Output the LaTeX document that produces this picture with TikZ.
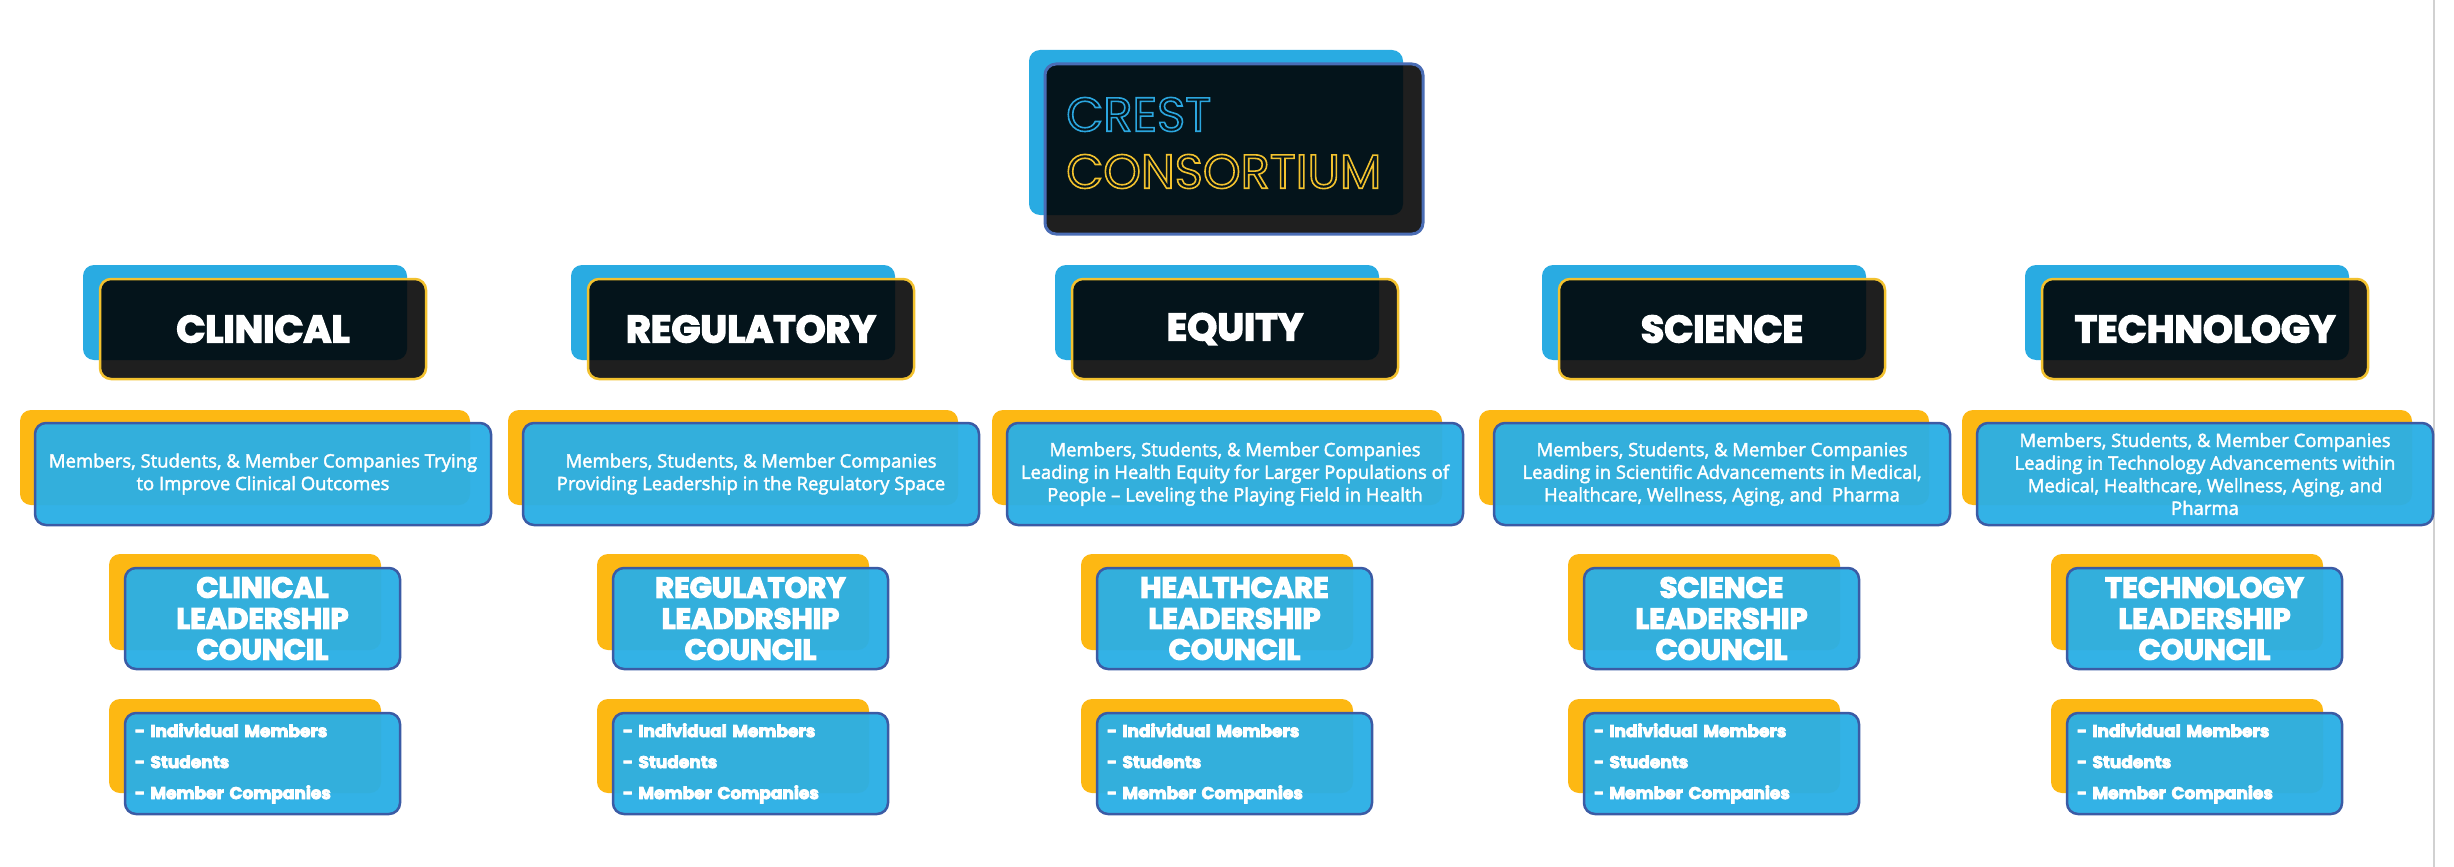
\documentclass[tikz,border=0pt]{standalone}
\usepackage{fontspec}
\setmainfont{Open Sans}
\newfontfamily\heavy{Poppins}
\newfontfamily\outlinefont{Poppins}
\pgfdeclarelayer{bg}
\pgfsetlayers{bg,main}
\definecolor{skyb}{HTML}{29ABE2}
\definecolor{skyf}{HTML}{2BAFE5}
\definecolor{gold}{HTML}{FDB813}
\definecolor{linkb}{HTML}{3F5FA8}
\definecolor{edgeb}{HTML}{3B5BA5}
\definecolor{edgey}{HTML}{F2C12E}
\definecolor{titleb}{HTML}{2BA6DF}
\definecolor{titley}{HTML}{F2C22E}
\definecolor{topedge}{HTML}{4A6DB5}
% outlined text (stroke only) and emboldened text (fill + stroke)
\newcommand\outl[1]{\special{pdf:literal direct 1 Tr 1.6 w}#1\special{pdf:literal direct 0 Tr 1 w}}
\newcommand\emb[2]{\special{pdf:literal direct 2 Tr #1 w}#2\special{pdf:literal direct 0 Tr 1 w}}
\tikzset{
  backblue/.style={rectangle, rounded corners=11pt, fill=skyb, inner sep=0pt},
  backgold/.style={rectangle, rounded corners=11pt, fill=gold, inner sep=0pt},
  darkfront/.style={rectangle, rounded corners=11pt, fill=black, fill opacity=0.88,
    text opacity=1, draw=edgey, line width=2.5pt, text=white, inner sep=0pt},
  bluefront/.style={rectangle, rounded corners=11pt, fill=skyf, fill opacity=0.96,
    text opacity=1, draw=edgeb, line width=2.5pt, text=white, inner sep=0pt},
  link/.style={draw=linkb, line width=2.5pt, line join=miter},
  catfont/.style={font=\heavy\bfseries\fontsize{38}{40}\selectfont},
  descfont/.style={font=\fontsize{18.5}{22.6}\selectfont},
  councilfont/.style={font=\heavy\bfseries\fontsize{29}{31}\selectfont},
  membfont/.style={font=\heavy\bfseries\fontsize{17}{31}\selectfont},
}
% #1 id, #2 centre x, #3 category, #4 description, #5 council
\newcommand\crestcol[5]{%
  \node[backblue, minimum width=324pt, minimum height=95pt] (#1cb) at (#2,312.5) {};
  \node[darkfront, catfont, minimum width=326pt, minimum height=100pt] (#1cf) at ({#2+18},329) {\emb{1.5}{#3}};
  \node[backgold, minimum width=450pt, minimum height=95pt] (#1db) at (#2,457.5) {};
  \node[bluefront, descfont, align=center, minimum width=456pt, minimum height=102pt] (#1df) at ({#2+18},474) {\emb{0.4}{#4}};
  \node[backgold, minimum width=272pt, minimum height=96pt] (#1kb) at (#2,602) {};
  \node[bluefront, councilfont, align=center, minimum width=275pt, minimum height=101pt] (#1kf) at ({#2+17.5},618.5) {\emb{1.2}{#5}};
  \node[backgold, minimum width=272pt, minimum height=94pt] (#1mb) at (#2,746) {};
  \node[bluefront, membfont, align=left, inner xsep=10pt, text width=255pt, minimum height=101pt] (#1mf) at ({#2+17.5},763.5)
    {\emb{0.8}{- Individual Members\\- Students\\- Member Companies}};
  \begin{pgfonlayer}{bg}
    \draw[link] (#1cb.south) -- (#1db.north);
    \draw[link] (#1db.south) -- (#1kb.north);
    \draw[link] (#1kb.south) -- (#1mb.north);
  \end{pgfonlayer}
}
\begin{document}
\begin{tikzpicture}[x=1pt,y=-1pt]
\useasboundingbox[fill=white] (0,0) rectangle (2454,867);
\draw[black!18, line width=2pt] (2434,0) -- (2434,867);
% top
\node[backblue, minimum width=374pt, minimum height=165pt] (topb) at (1216,132.5) {};
\node[darkfront, draw=topedge, line width=3pt, minimum width=378pt, minimum height=170pt] (topf) at (1234,149) {};
\node[anchor=west, align=left, inner sep=0pt, font=\outlinefont\fontsize{48}{57}\selectfont] (title) at (1066,143)
  {\textcolor{titleb}{\outl{CREST}}\\\textcolor{titley}{\outl{CONSORTIUM}}};
\crestcol{A}{245}{CLINICAL}{Members, Students, \& Member Companies Trying\\to Improve Clinical Outcomes}{CLINICAL\\LEADERSHIP\\COUNCIL}
\crestcol{B}{733}{REGULATORY}{Members, Students, \& Member Companies\\Providing Leadership in the Regulatory Space}{REGULATORY\\LEADDRSHIP\\COUNCIL}
\crestcol{C}{1217}{EQUITY}{Members, Students, \& Member Companies\\Leading in Health Equity for Larger Populations of\\People – Leveling the Playing Field in Health}{HEALTHCARE\\LEADERSHIP\\COUNCIL}
\crestcol{D}{1704}{SCIENCE}{Members, Students, \& Member Companies\\Leading in Scientific Advancements in Medical,\\Healthcare, Wellness, Aging, and\ \ Pharma}{SCIENCE\\LEADERSHIP\\COUNCIL}
\crestcol{E}{2187}{TECHNOLOGY}{Members, Students, \& Member Companies\\Leading in Technology Advancements within\\Medical, Healthcare, Wellness, Aging, and\\Pharma}{TECHNOLOGY\\LEADERSHIP\\COUNCIL}
\coordinate (busL) at (245,248);
\begin{pgfonlayer}{bg}
  \draw[link] (topb.south) -- (topb.south |- busL);
  \draw[link] (Acb.north) -- (Acb.north |- busL) -- (Ecb.north |- busL) -- (Ecb.north);
  \draw[link] (Bcb.north) -- (Bcb.north |- busL);
  \draw[link] (Ccb.north) -- (Ccb.north |- busL);
  \draw[link] (Dcb.north) -- (Dcb.north |- busL);
\end{pgfonlayer}
\end{tikzpicture}
\end{document}
